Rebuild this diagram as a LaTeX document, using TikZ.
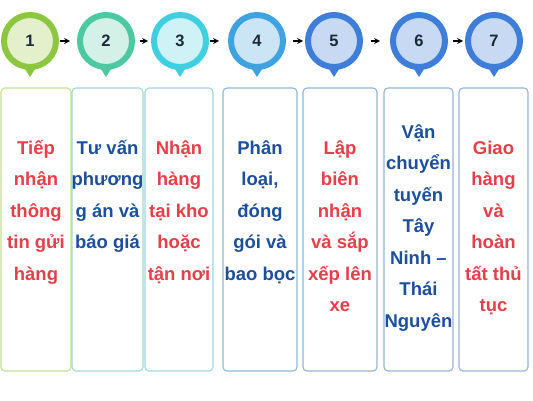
\documentclass[tikz,border=0pt]{standalone}
\usepackage{fontspec}
\setmainfont{Liberation Sans}
\usetikzlibrary{calc}

\definecolor{ringA}{HTML}{8DC63F}
\definecolor{innerA}{HTML}{E3F0CB}
\definecolor{ringB}{HTML}{4CC9A0}
\definecolor{innerB}{HTML}{D3F1E7}
\definecolor{ringC}{HTML}{3FCFE0}
\definecolor{innerC}{HTML}{CFF2F7}
\definecolor{ringD}{HTML}{3FA3E0}
\definecolor{innerD}{HTML}{CBE4F6}
\definecolor{ringE}{HTML}{3E7ED8}
\definecolor{innerE}{HTML}{C8DAF3}
\definecolor{edgeA}{HTML}{C6DF93}
\definecolor{edgeB}{HTML}{A0D9D0}
\definecolor{edgeC}{HTML}{9DD8E0}
\definecolor{edgeD}{HTML}{8DBBDA}
\definecolor{edgeE}{HTML}{95B3D4}
\definecolor{stepred}{HTML}{E5404A}
\definecolor{stepblue}{HTML}{1C4F9C}
\definecolor{digit}{HTML}{1B2A38}

\tikzset{
    pin/.style={circle, line width=6pt, minimum size=52pt, inner sep=0pt,
        font=\fontsize{16.5}{18}\selectfont\bfseries, text=digit},
    stepbox/.style={draw, rounded corners=4pt, line width=1.1pt, fill=white,
        minimum height=283pt, inner sep=0pt},
    steptext/.style={align=center, anchor=base, inner sep=0pt,
        font=\fontsize{18.5}{31.5}\selectfont\bfseries},
    flow/.style={-stealth, line width=1.6pt, black}
}

\begin{document}
\begin{tikzpicture}[x=1pt, y=1pt]

    \useasboundingbox (0,0) rectangle (533,400);

    % pins
    \node[pin, draw=ringA, fill=innerA] (p1) at (30,359) {1};
    \fill[ringA] ($(p1.south)+(-7,4)$) -- ($(p1.south)+(7,4)$)
        -- ($(p1.south)+(0,-7)$) -- cycle;
    \node[pin, draw=ringB, fill=innerB] (p2) at (106,359) {2};
    \fill[ringB] ($(p2.south)+(-7,4)$) -- ($(p2.south)+(7,4)$)
        -- ($(p2.south)+(0,-7)$) -- cycle;
    \node[pin, draw=ringC, fill=innerC] (p3) at (180,359) {3};
    \fill[ringC] ($(p3.south)+(-7,4)$) -- ($(p3.south)+(7,4)$)
        -- ($(p3.south)+(0,-7)$) -- cycle;
    \node[pin, draw=ringD, fill=innerD] (p4) at (257,359) {4};
    \fill[ringD] ($(p4.south)+(-7,4)$) -- ($(p4.south)+(7,4)$)
        -- ($(p4.south)+(0,-7)$) -- cycle;
    \node[pin, draw=ringE, fill=innerE] (p5) at (334,359) {5};
    \fill[ringE] ($(p5.south)+(-7,4)$) -- ($(p5.south)+(7,4)$)
        -- ($(p5.south)+(0,-7)$) -- cycle;
    \node[pin, draw=ringE, fill=innerE] (p6) at (419,359) {6};
    \fill[ringE] ($(p6.south)+(-7,4)$) -- ($(p6.south)+(7,4)$)
        -- ($(p6.south)+(0,-7)$) -- cycle;
    \node[pin, draw=ringE, fill=innerE] (p7) at (494,359) {7};
    \fill[ringE] ($(p7.south)+(-7,4)$) -- ($(p7.south)+(7,4)$)
        -- ($(p7.south)+(0,-7)$) -- cycle;

    % arrows between the pins
    \draw[flow, shorten <=1pt, shorten >=7pt] (p1) -- (p2);
    \draw[flow, shorten <=5pt, shorten >=3pt] (p2) -- (p3);
    \draw[flow, shorten <=1pt, shorten >=9pt] (p3) -- (p4);
    \draw[flow, shorten <=7pt, shorten >=2pt] (p4) -- (p5);
    \draw[flow, shorten <=8pt, shorten >=10pt] (p5) -- (p6);
    \draw[flow, shorten <=5pt, shorten >=2pt] (p6) -- (p7);

    % boxes
    \node[stepbox, draw=edgeA, minimum width=70pt] (b1) at (36,170.5) {};
    \node[stepbox, draw=edgeB, minimum width=71pt] (b2) at (107.5,170.5) {};
    \node[stepbox, draw=edgeC, minimum width=68pt] (b3) at (179,170.5) {};
    \node[stepbox, draw=edgeD, minimum width=74pt] (b4) at (260,170.5) {};
    \node[stepbox, draw=edgeE, minimum width=74pt] (b5) at (340,170.5) {};
    \node[stepbox, draw=edgeE, minimum width=69pt] (b6) at (418.5,170.5) {};
    \node[stepbox, draw=edgeE, minimum width=69pt] (b7) at (493.5,170.5) {};

    % texts (base = last line)
    \node[steptext, text=stepred] (t1) at (b1.center |- 0,120)
        {Tiếp\\nhận\\thông\\tin gửi\\hàng};
    \node[steptext, text=stepblue] (t2) at (b2.center |- 0,151.5)
        {Tư vấn\\phương\\g án và\\báo giá};
    \node[steptext, text=stepred] (t3) at (b3.center |- 0,120)
        {Nhận\\hàng\\tại kho\\hoặc\\tận nơi};
    \node[steptext, text=stepblue] (t4) at (b4.center |- 0,120)
        {Phân\\loại,\\đóng\\gói và\\bao bọc};
    \node[steptext, text=stepred] (t5) at (b5.center |- 0,88.5)
        {Lập\\biên\\nhận\\và sắp\\xếp lên\\xe};
    \node[steptext, text=stepblue] (t6) at (b6.center |- 0,73)
        {Vận\\chuyển\\tuyến\\Tây\\Ninh –\\Thái\\Nguyên};
    \node[steptext, text=stepred] (t7) at (b7.center |- 0,88.5)
        {Giao\\hàng\\và\\hoàn\\tất thủ\\tục};

\end{tikzpicture}
\end{document}
